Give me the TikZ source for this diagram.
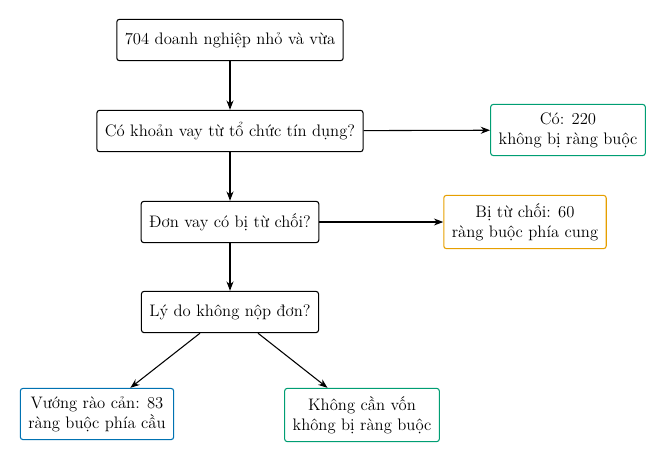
\documentclass[tikz,border=0pt]{standalone}
\usepackage{fontspec}
\usetikzlibrary{arrows.meta}
\definecolor{cgreen}{HTML}{009E73}
\definecolor{corange}{HTML}{E69F00}
\definecolor{cblue}{HTML}{0072B2}
\begin{document}
\begin{tikzpicture}[x=0.75pt,y=-0.75pt,
  box/.style={draw,thick,rounded corners=2pt,align=center,inner sep=6pt,font=\fontsize{12.5}{15}\selectfont,minimum height=31pt},
  arr/.style={-{Stealth[length=7pt]},thick}]
\useasboundingbox (0,0) rectangle (669,454);
\node[box] (a) at (230,40) {704 doanh nghiệp nhỏ và vừa};
\node[box] (b) at (230,131) {Có khoản vay từ tổ chức tín dụng?};
\node[box,draw=cgreen] (r1) at (568,130) {Có: 220\\không bị ràng buộc};
\node[box] (c) at (230,222) {Đơn vay có bị từ chối?};
\node[box,draw=corange] (r2) at (525,222) {Bị từ chối: 60\\ràng buộc phía cung};
\node[box] (d) at (230,312) {Lý do không nộp đơn?};
\node[box,draw=cblue] (e) at (97,414) {Vướng rào cản: 83\\ràng buộc phía cầu};
\node[box,draw=cgreen] (f) at (362,415) {Không cần vốn\\không bị ràng buộc};
\draw[arr] (a) -- (b);
\draw[arr] (b) -- (r1);
\draw[arr] (b) -- (c);
\draw[arr] (c) -- (r2);
\draw[arr] (c) -- (d);
\draw[arr] (d.south -| 200,0) -- (e);
\draw[arr] (d.south -| 258,0) -- (f);
\end{tikzpicture}
\end{document}
